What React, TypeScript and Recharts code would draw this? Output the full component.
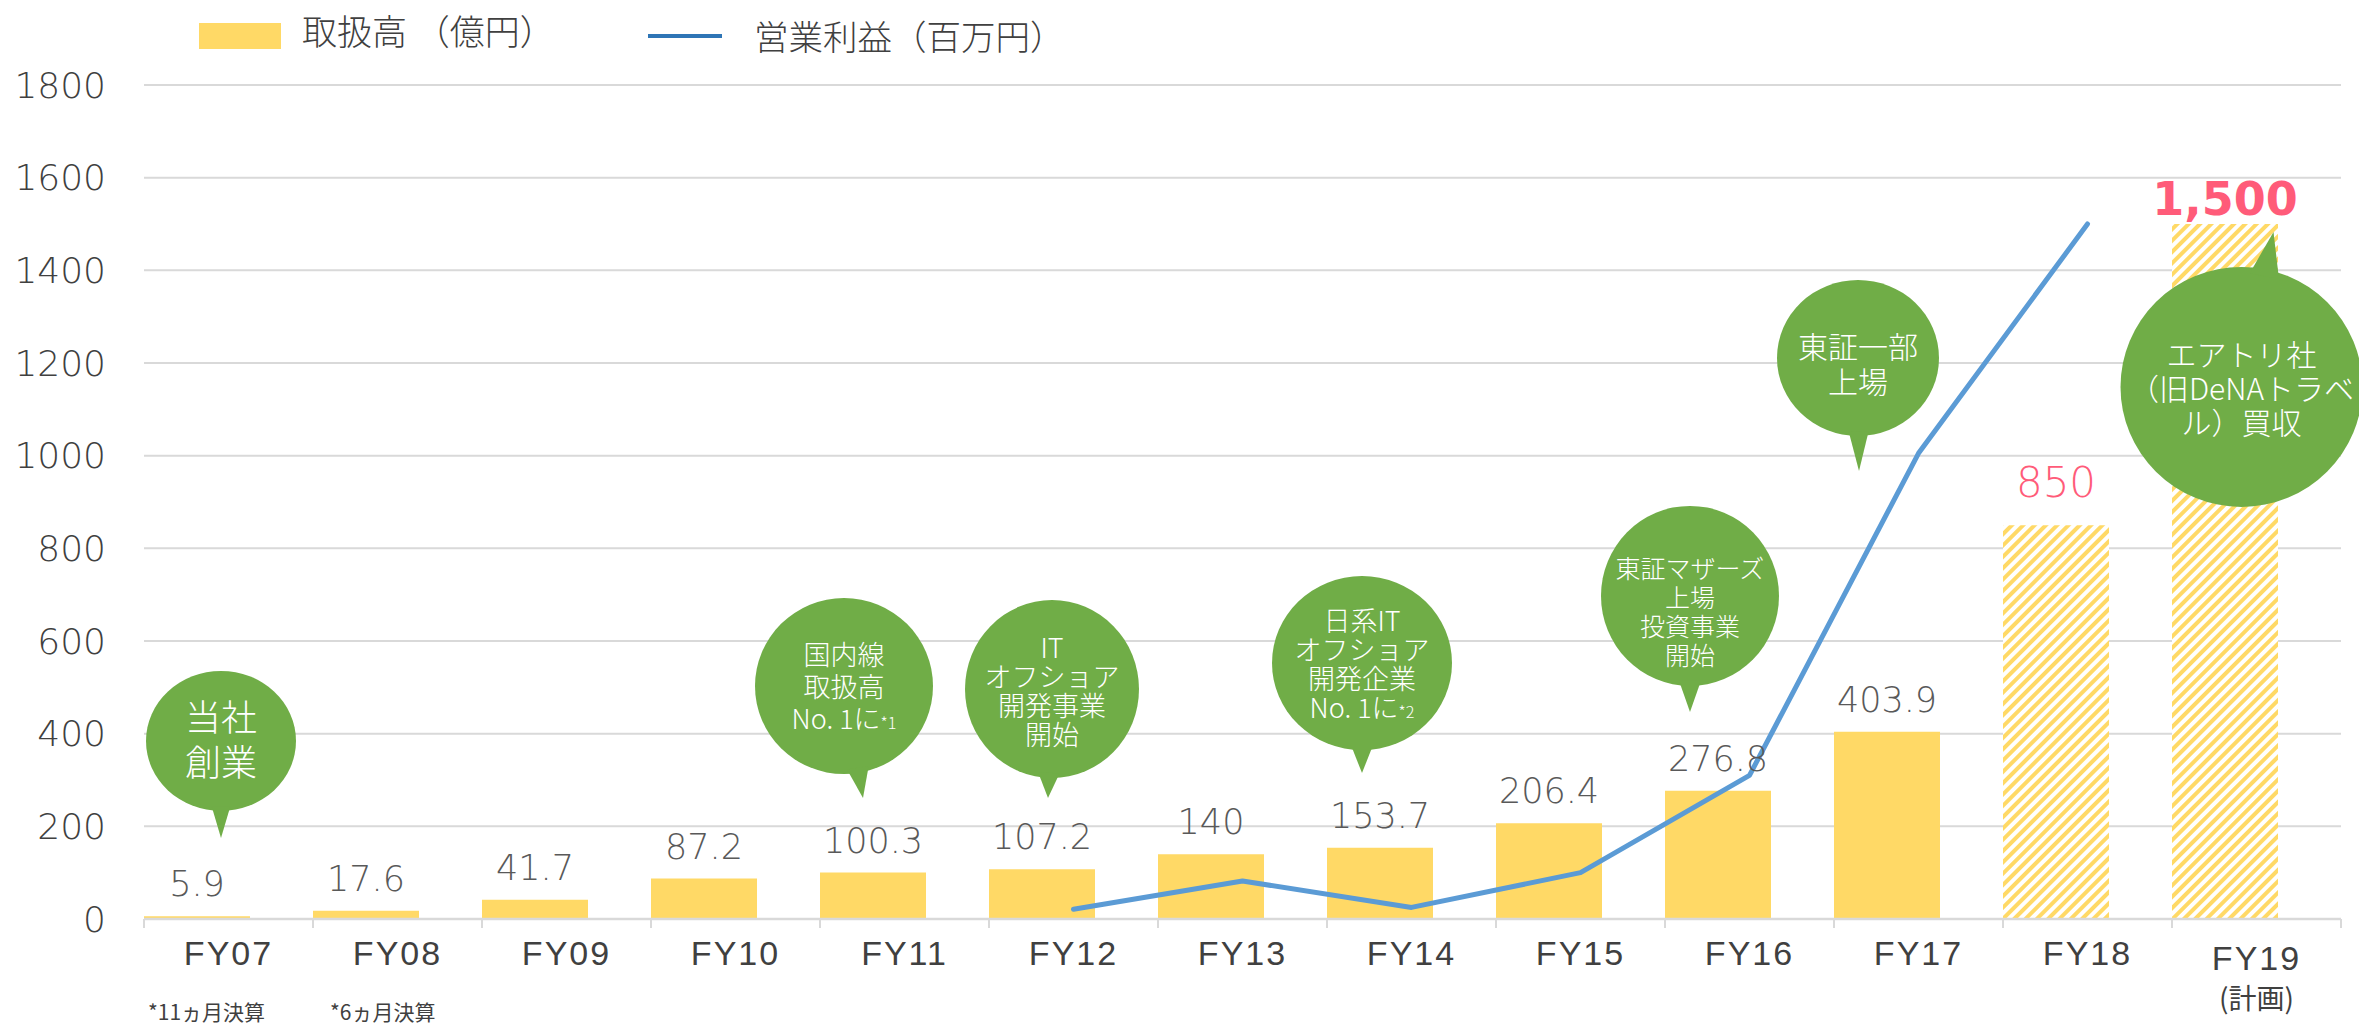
import React from 'react';
import {
  ComposedChart,
  Bar,
  Line,
  XAxis,
  YAxis,
  CartesianGrid,
  Cell,
  LabelList,
  ReferenceDot,
  Legend,
} from 'recharts';

// ---------- data ----------
const categories = ['FY07', 'FY08', 'FY09', 'FY10', 'FY11', 'FY12', 'FY13', 'FY14', 'FY15', 'FY16', 'FY17', 'FY18', 'FY19'];
const subLabels = ['', '', '', '', '', '', '', '', '', '', '', '', '(計画)'];
const volumes = [5.9, 17.6, 41.7, 87.2, 100.3, 107.2, 140, 153.7, 206.4, 276.8, 403.9, 850, 1500];
const profits: (number | null)[] = [null, null, null, null, null, 21, 82, 25, 100, 310, 1005, 1500, null];
const planned = [false, false, false, false, false, false, false, false, false, false, false, true, true];
const yTicks = [0, 200, 400, 600, 800, 1000, 1200, 1400, 1600, 1800];
const seriesNames = ['取扱高 （億円）', '営業利益（百万円）'];
const footnotes = ['*11ヵ月決算', '*6ヵ月決算'];

// annotation texts; '^' separates a small footnote mark
const annotations = [
  { category: 'FY07', tip: 175, lines: ['当社', '創業'] },
  { category: 'FY11', tip: 261, lines: ['国内線', '取扱高', 'No. 1に^*1'] },
  { category: 'FY12', tip: 261, lines: ['IT', 'オフショア', '開発事業', '開始'] },
  { category: 'FY14', tip: 315, lines: ['日系IT', 'オフショア', '開発企業', 'No. 1に^*2'] },
  { category: 'FY16', tip: 447, lines: ['東証マザーズ', '上場', '投資事業', '開始'] },
  { category: 'FY17', tip: 967, lines: ['東証一部', '上場'] },
  { category: 'FY19', tip: 1483, lines: ['エアトリ社', '（旧DeNAトラベ', 'ル）買収'] },
];

// ---------- layout / style ----------
const CHART_W = 2359;
const CHART_H = 1024;
const MARGIN = { top: 85, right: 18, bottom: 0, left: 0 };
const Y_AXIS_W = 144;
const X_AXIS_H = 105;
const PLOT_W = CHART_W - MARGIN.left - MARGIN.right - Y_AXIS_W;
const BAND = PLOT_W / categories.length;

const BAR_COLOR = '#FFD966';
const LINE_COLOR = '#5B9BD5';
const LEGEND_LINE = '#2E75B6';
const GRID = '#D9D9D9';
const TEXT = '#404040';
const LABEL = '#595959';
const PINK = '#FF5B79';
const BUBBLE = '#70AD47';
const NUM_FONT = "'DejaVu Sans', 'Liberation Sans', sans-serif";
const AXIS_FONT = "'Liberation Sans', Arial, sans-serif";
const JP_FONT = "'Noto Sans CJK JP', 'Noto Sans', sans-serif";

const bubbleLayout = [
  { dx: -7.5, ex: 0, ey: -97, rx: 75, ry: 70, fs: 36, gap: 45, tdy: 0 },
  { dx: -41.5, ex: -19, ey: -112, rx: 89, ry: 88, fs: 27, gap: 32, tdy: 1 },
  { dx: -25.5, ex: 4, ey: -109, rx: 87, ry: 89, fs: 27, gap: 29, tdy: 3 },
  { dx: -49.5, ex: 0, ey: -110, rx: 90, ry: 87, fs: 27, gap: 29, tdy: 2 },
  { dx: -59.5, ex: 0, ey: -116, rx: 89, ry: 90, fs: 25, gap: 29, tdy: 17 },
  { dx: -59.5, ex: -1, ey: -113, rx: 81, ry: 78, fs: 30, gap: 35, tdy: 7 },
  { dx: 17, ex: -32, ey: 155, rx: 121, ry: 120, fs: 30, gap: 34, tdy: 2 },
];

const data = categories.map((c, i) => ({
  category: c,
  volume: volumes[i],
  profit: profits[i],
}));

function Bubble(props: any) {
  const { cx, cy, ann, lay } = props;
  if (cx == null || cy == null) return null;
  const tipX = cx + lay.dx;
  const tipY = cy;
  const ex = tipX + lay.ex;
  const ey = tipY + lay.ey;
  const th = Math.atan2((tipY - ey) / lay.ry, (tipX - ex) / lay.rx);
  const d = 0.13;
  const k = 0.95;
  const b1 = [ex + lay.rx * k * Math.cos(th - d), ey + lay.ry * k * Math.sin(th - d)];
  const b2 = [ex + lay.rx * k * Math.cos(th + d), ey + lay.ry * k * Math.sin(th + d)];
  const n = ann.lines.length;
  const centerY = ey + lay.tdy;
  return (
    <g>
      <ellipse cx={ex} cy={ey} rx={lay.rx} ry={lay.ry} fill={BUBBLE} />
      <polygon points={`${b1[0]},${b1[1]} ${tipX},${tipY} ${b2[0]},${b2[1]}`} fill={BUBBLE} />
      {ann.lines.map((ln: string, i: number) => {
        const [main, note] = ln.split('^');
        const base = centerY + (i - (n - 1) / 2) * lay.gap + lay.fs * 0.36;
        return (
          <text
            key={i}
            x={ex}
            y={base}
            textAnchor="middle"
            fill="#FFFFFF"
            fontSize={lay.fs}
            fontFamily={JP_FONT}
            fontWeight={300}
          >
            {main}
            {note ? <tspan fontSize={lay.fs * 0.6}>{note}</tspan> : null}
          </text>
        );
      })}
    </g>
  );
}

function CategoryTick(props: any) {
  const { x, y, payload } = props;
  const i = categories.indexOf(payload.value);
  const left = x - BAND / 2;
  const right = x + BAND / 2;
  const sub = subLabels[i];
  return (
    <g>
      <line x1={left} x2={left} y1={y} y2={y + 9} stroke={GRID} strokeWidth={2} />
      {i === categories.length - 1 ? (
        <line x1={right} x2={right} y1={y} y2={y + 9} stroke={GRID} strokeWidth={2} />
      ) : null}
      <text
        x={x}
        y={sub ? y + 51 : y + 46}
        textAnchor="middle"
        fill={TEXT}
        fontSize={34}
        letterSpacing={2}
        fontFamily={AXIS_FONT}
      >
        {payload.value}
      </text>
      {sub ? (
        <text x={x} y={y + 90} textAnchor="middle" fill={TEXT} fontSize={28} fontFamily={JP_FONT}>
          {sub}
        </text>
      ) : null}
    </g>
  );
}

function BarLabel(props: any) {
  const { x, y, width, value, index } = props;
  if (value == null) return null;
  const cx = x + width / 2;
  const last = index === categories.length - 1;
  const plan = planned[index];
  const text = value >= 1000 ? Number(value).toLocaleString('en-US') : String(value);
  if (last) {
    return (
      <text x={cx} y={y - 9} textAnchor="middle" fill={PINK} fontSize={46} fontWeight={700} fontFamily={NUM_FONT}>
        {text}
      </text>
    );
  }
  if (plan) {
    return (
      <text x={cx} y={y - 28} textAnchor="middle" fill={PINK} fontSize={42} fontFamily={NUM_FONT} fontWeight={300}>
        {text}
      </text>
    );
  }
  return (
    <text x={cx} y={y - 20} textAnchor="middle" fill={LABEL} fontSize={35} fontFamily={NUM_FONT} fontWeight={300}>
      {text}
    </text>
  );
}

function LegendContent() {
  return (
    <svg width={1200} height={80} style={{ display: 'block' }}>
      <rect x={199} y={23} width={82} height={26} fill={BAR_COLOR} />
      <text x={302} y={45} fill={TEXT} fontSize={35} fontFamily={JP_FONT} fontWeight={300}>
        {seriesNames[0]}
      </text>
      <line x1={648} x2={722} y1={36} y2={36} stroke={LEGEND_LINE} strokeWidth={4} />
      <text x={754} y={50} fill={TEXT} fontSize={34.5} fontFamily={JP_FONT} fontWeight={300}>
        {seriesNames[1]}
      </text>
    </svg>
  );
}

export default function App() {
  return (
    <div style={{ position: 'absolute', left: 0, top: 0, width: CHART_W, height: CHART_H, background: '#fff', fontFamily: NUM_FONT }}>
      <ComposedChart
        width={CHART_W}
        height={CHART_H}
        data={data}
        margin={MARGIN}
        barCategoryGap={0}
        barGap={-43}
      >
        <defs>
          <pattern id="hatch" width={8} height={8} patternUnits="userSpaceOnUse" patternTransform="rotate(45)">
            <rect x={0} y={0} width={8} height={8} fill="#FFFFFF" />
            <rect x={0} y={0} width={4} height={8} fill={BAR_COLOR} />
          </pattern>
        </defs>
        <CartesianGrid vertical={false} stroke={GRID} strokeWidth={2} />
        <XAxis
          dataKey="category"
          height={X_AXIS_H}
          interval={0}
          axisLine={{ stroke: GRID, strokeWidth: 2.5 }}
          tickLine={false}
          tickSize={0}
          tickMargin={0}
          tick={<CategoryTick />}
        />
        <YAxis
          width={Y_AXIS_W}
          domain={[0, 1800]}
          ticks={yTicks}
          interval={0}
          axisLine={false}
          tickLine={false}
          tickSize={0}
          tickMargin={38}
          tick={{ fill: TEXT, fontSize: 36, fontFamily: NUM_FONT, fontWeight: 300 }}
        />
        <Legend
          layout="horizontal"
          verticalAlign="middle"
          align="center"
          wrapperStyle={{ top: 0, left: 0, width: 1200, height: 80 }}
          content={<LegendContent />}
        />
        <Bar dataKey="volume" isAnimationActive={false}>
          {data.map((d, i) => (
            <Cell key={d.category} fill={planned[i] ? 'url(#hatch)' : BAR_COLOR} />
          ))}
          <LabelList dataKey="volume" content={<BarLabel />} />
        </Bar>
        <Bar dataKey="ghost" fill="none" isAnimationActive={false} />
        <Line
          dataKey="profit"
          stroke={LINE_COLOR}
          strokeWidth={5}
          strokeLinecap="round"
          strokeLinejoin="round"
          dot={false}
          activeDot={false}
          isAnimationActive={false}
        />
        {annotations.map((a, i) => (
          <ReferenceDot
            key={a.category + i}
            x={a.category}
            y={a.tip}
            r={0}
            ifOverflow="visible"
            shape={(p: any) => <Bubble {...p} ann={a} lay={bubbleLayout[i]} />}
          />
        ))}
      </ComposedChart>
      {footnotes.map((f, i) => (
        <div
          key={f}
          style={{
            position: 'absolute',
            left: i === 0 ? 148 : 330,
            top: 1000,
            fontSize: 21,
            lineHeight: '22px',
            color: TEXT,
            fontFamily: JP_FONT,
            whiteSpace: 'nowrap',
          }}
        >
          {f}
        </div>
      ))}
    </div>
  );
}
